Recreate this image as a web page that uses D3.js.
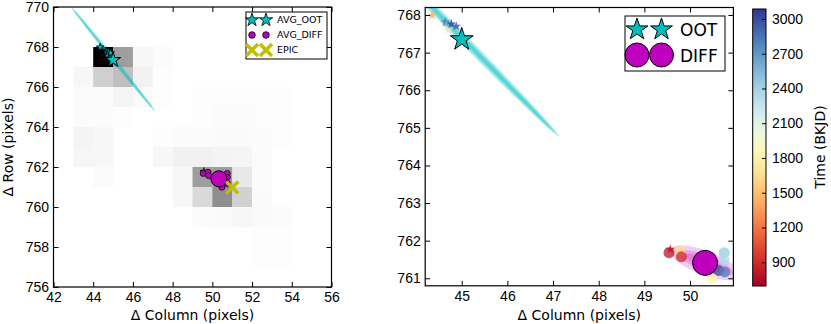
<!DOCTYPE html>
<html>
<head>
<meta charset="utf-8">
<script src="https://cdn.jsdelivr.net/npm/d3@7"></script>
<style>
  body { margin: 0; background: #fff; }
  svg { display: block; font-family: "DejaVu Sans", sans-serif; }
  .tick line { stroke: #000; }
  .tick text { font-size: 14px; fill: #000; }
</style>
</head>
<body>
<svg id="chart" width="831" height="324"></svg>
<script>
// ---------- data ----------
// pixel-response image (left panel): left edge of each column, bottom edge of each row
const heatCols = d3.range(42, 56);
const heatRows = d3.range(769, 755, -1);
// darkness 0..1, rows top -> bottom, columns 42 -> 55
const heatVals = [
  [0,0,0,0,0,0,0,0,0,0,0,0,0,0],
  [0,0,0,0,0,0,0,0,0,0,0,0,0,0],
  [0,0,1.0,0.38,0.03,0.015,0,0,0,0,0,0,0,0],
  [0,0.03,0.19,0.25,0.05,0.008,0,0,0,0,0,0,0,0],
  [0,0.015,0.015,0.04,0.02,0.008,0,0.008,0.01,0.01,0.01,0.008,0,0],
  [0,0.015,0.015,0.008,0,0,0,0.008,0.015,0.015,0.01,0.008,0,0],
  [0,0.045,0.03,0,0,0.008,0.015,0.015,0.02,0.02,0.015,0.008,0,0],
  [0,0.035,0.03,0,0,0.03,0.055,0.055,0.045,0.04,0.015,0,0,0],
  [0,0,0.015,0,0,0,0.03,0.38,0.38,0.09,0.015,0,0,0],
  [0,0,0,0,0,0,0.03,0.15,0.44,0.18,0.02,0,0,0],
  [0,0,0,0,0,0,0,0.015,0.02,0.03,0.02,0.015,0,0],
  [0,0,0,0,0,0,0,0,0,0,0.008,0.008,0,0],
  [0,0,0,0,0,0,0,0,0,0,0.008,0.008,0,0],
  [0,0,0,0,0,0,0,0,0,0,0,0,0,0]
];

// averaged centroids [column, row]
const avgOot = [45.0, 767.35];
const avgDiff = [50.33, 761.41];
const epicPos = [51.0, 760.98];

// per-quarter centroids [column, row, time BKJD]
const ootQuarters = [
  [44.35, 767.99, 1400],
  [44.70, 767.60, 1700],
  [44.64, 767.81, 2900],
  [44.68, 767.78, 2600],
  [44.77, 767.76, 3050],
  [44.88, 767.70, 3000],
  [49.57, 761.77, 800]
];
const diffQuarters = [
  [49.54, 761.68, 800],
  [49.78, 761.74, 1650],
  [49.81, 761.57, 900],
  [50.75, 761.68, 2450],
  [50.75, 761.48, 2350],
  [50.62, 761.21, 3000],
  [50.48, 760.99, 1800],
  [50.76, 761.17, 2800]
];

// error ellipses: centre, major and minor half-axis vectors (data units)
const ootEllipse = { c: [45.0, 767.4], a: [2.13, -2.63], b: [0.085, 0.069] };
const diffEllipse = { c: [50.33, 761.41], a: [-0.76, 0.35], b: [0.094, 0.3] };
const ootLayers = [[1, 1], [0.96, 0.65], [0.92, 0.35]];
const diffLayers = [[1, 1], [0.8, 0.65], [0.6, 0.4]];

const leftXTicks = d3.range(42, 57, 2);
const leftYTicks = d3.range(756, 771, 2);
const rightXTicks = d3.range(45, 51);
const rightYTicks = d3.range(761, 769);
const timeTicks = d3.range(900, 3001, 300);
const timeDomain = [695, 3086];

// ---------- layout ----------
const svg = d3.select('#chart');
const CYAN = '#00bfbf', MAG = '#bf00bf', YEL = '#bfbf00';
const intFmt = d3.format('d');

const L = { x0: 53.5, x1: 331.5, y0: 7, y1: 287 };
const R = { x0: 425.2, x1: 733.4, y0: 7.5, y1: 285.8 };

const xL = d3.scaleLinear([42, 56], [L.x0, L.x1]);
const yL = d3.scaleLinear([756, 770], [L.y1, L.y0]);
const xR = d3.scaleLinear([44.2, 50.95], [R.x0, R.x1]);
const yR = d3.scaleLinear([760.8, 768.2], [R.y1, R.y0]);
const tScale = d3.scaleLinear(timeDomain, [286, 9]);
const tColor = d3.scaleSequential(t => d3.interpolateRdYlBu(t)).domain(timeDomain);
const gray = d3.scaleLinear([0, 1], ['#ffffff', '#000000']);

const starSym = r => d3.symbol(d3.symbolStar, r * r / 0.8908130915292852)();
const crossPath = s => `M${-s},${-s}L${s},${s}M${-s},${s}L${s},${-s}`;

function ellipsePath(e, sx, sy, kLen, kWid) {
  const pts = d3.range(0, 121).map(i => {
    const t = i / 120 * 2 * Math.PI;
    return [
      sx(e.c[0] + Math.cos(t) * e.a[0] * kLen + Math.sin(t) * e.b[0] * kWid),
      sy(e.c[1] + Math.cos(t) * e.a[1] * kLen + Math.sin(t) * e.b[1] * kWid)
    ];
  });
  return d3.line()(pts) + 'Z';
}

const defs = svg.append('defs');
defs.append('clipPath').attr('id', 'clipL').append('rect')
  .attr('x', L.x0).attr('y', L.y0).attr('width', L.x1 - L.x0).attr('height', L.y1 - L.y0);
defs.append('clipPath').attr('id', 'clipR').append('rect')
  .attr('x', R.x0).attr('y', R.y0).attr('width', R.x1 - R.x0).attr('height', R.y1 - R.y0);

function drawAxes(box, sx, sy, xt, yt) {
  const g = svg.append('g');
  g.append('g').attr('transform', `translate(0,${box.y1})`)
    .call(d3.axisBottom(sx).tickValues(xt).tickFormat(intFmt).tickSizeInner(-5).tickSizeOuter(0).tickPadding(5));
  g.append('g').attr('transform', `translate(0,${box.y0})`)
    .call(d3.axisTop(sx).tickValues(xt).tickSizeInner(-5).tickSizeOuter(0).tickFormat(''));
  g.append('g').attr('transform', `translate(${box.x0},0)`)
    .call(d3.axisLeft(sy).tickValues(yt).tickFormat(intFmt).tickSizeInner(-5).tickSizeOuter(0).tickPadding(4.5));
  g.append('g').attr('transform', `translate(${box.x1},0)`)
    .call(d3.axisRight(sy).tickValues(yt).tickSizeInner(-5).tickSizeOuter(0).tickFormat(''));
  g.selectAll('.domain').remove();
  g.selectAll('.tick text').attr('font-family', null).attr('font-size', null);
  svg.append('rect').attr('x', box.x0).attr('y', box.y0)
    .attr('width', box.x1 - box.x0).attr('height', box.y1 - box.y0)
    .attr('fill', 'none').attr('stroke', '#000').attr('stroke-width', 1.2);
}

// ---------- left panel ----------
const gl = svg.append('g').attr('clip-path', 'url(#clipL)');
const cells = [];
heatVals.forEach((row, i) => row.forEach((v, j) => cells.push({ c: heatCols[j], r: heatRows[i], v })));
gl.append('g').selectAll('rect').data(cells.filter(d => d.v > 0)).join('rect')
  .attr('x', d => xL(d.c)).attr('y', d => yL(d.r + 1))
  .attr('width', d => xL(d.c + 1) - xL(d.c) + 0.3)
  .attr('height', d => yL(d.r) - yL(d.r + 1) + 0.3)
  .attr('fill', d => gray(d.v));

gl.append('g').selectAll('path').data(ootLayers).join('path')
  .attr('d', k => ellipsePath(ootEllipse, xL, yL, k[0], k[1]))
  .attr('fill', CYAN).attr('fill-opacity', 0.3);
gl.append('g').selectAll('path').data(diffLayers).join('path')
  .attr('d', k => ellipsePath(diffEllipse, xL, yL, k[0], k[1]))
  .attr('fill', MAG).attr('fill-opacity', 0.15);

gl.append('g').selectAll('path').data(ootQuarters).join('path')
  .attr('transform', d => `translate(${xL(d[0])},${yL(d[1])})`)
  .attr('d', starSym(4)).attr('fill', CYAN).attr('stroke', '#000').attr('stroke-width', 0.8);
gl.append('g').selectAll('circle').data(diffQuarters).join('circle')
  .attr('cx', d => xL(d[0])).attr('cy', d => yL(d[1])).attr('r', 3)
  .attr('fill', MAG).attr('stroke', '#000').attr('stroke-width', 0.8);

gl.append('path').attr('transform', `translate(${xL(avgOot[0])},${yL(avgOot[1])})`)
  .attr('d', starSym(8)).attr('fill', CYAN).attr('stroke', '#000').attr('stroke-width', 1);
gl.append('circle').attr('cx', xL(avgDiff[0])).attr('cy', yL(avgDiff[1])).attr('r', 8)
  .attr('fill', MAG).attr('stroke', '#000').attr('stroke-width', 1);
gl.append('path').attr('transform', `translate(${xL(epicPos[0])},${yL(epicPos[1])})`)
  .attr('d', crossPath(6)).attr('fill', 'none').attr('stroke', YEL).attr('stroke-width', 3.5);

drawAxes(L, xL, yL, leftXTicks, leftYTicks);

// left legend
const lg = svg.append('g');
lg.append('rect').attr('x', 246).attr('y', 12).attr('width', 81).attr('height', 47)
  .attr('fill', '#fff').attr('stroke', '#000').attr('stroke-width', 1);
[252, 266].forEach(x => {
  lg.append('path').attr('transform', `translate(${x},20)`).attr('d', starSym(7))
    .attr('fill', CYAN).attr('stroke', '#000').attr('stroke-width', 0.8);
  lg.append('circle').attr('cx', x).attr('cy', 35).attr('r', 3.3)
    .attr('fill', MAG).attr('stroke', '#000').attr('stroke-width', 0.8);
  lg.append('path').attr('transform', `translate(${x},50)`).attr('d', crossPath(6))
    .attr('fill', 'none').attr('stroke', YEL).attr('stroke-width', 3.5);
});
lg.selectAll('text').data(['AVG_OOT', 'AVG_DIFF', 'EPIC']).join('text')
  .attr('x', 277).attr('y', (d, i) => 20 + i * 15).attr('dy', '0.35em')
  .attr('font-size', 9.5).text(d => d);

svg.append('text').attr('x', (L.x0 + L.x1) / 2).attr('y', 320)
  .attr('text-anchor', 'middle').attr('font-size', 14).text('Δ Column (pixels)');
svg.append('text').attr('transform', `translate(13,${(L.y0 + L.y1) / 2}) rotate(-90)`)
  .attr('text-anchor', 'middle').attr('font-size', 14).text('Δ Row (pixels)');

// ---------- right panel ----------
const gr = svg.append('g').attr('clip-path', 'url(#clipR)');
gr.append('g').selectAll('path').data(ootLayers).join('path')
  .attr('d', k => ellipsePath(ootEllipse, xR, yR, k[0], k[1]))
  .attr('fill', CYAN).attr('fill-opacity', 0.3);
gr.append('g').selectAll('path').data(diffLayers).join('path')
  .attr('d', k => ellipsePath(diffEllipse, xR, yR, k[0], k[1]))
  .attr('fill', MAG).attr('fill-opacity', 0.2);

gr.append('g').selectAll('path').data(ootQuarters).join('path')
  .attr('transform', d => `translate(${xR(d[0])},${yR(d[1])})`)
  .attr('d', starSym(5)).attr('fill', d => tColor(d[2])).attr('fill-opacity', 0.8);
gr.append('g').selectAll('circle').data(diffQuarters).join('circle')
  .attr('cx', d => xR(d[0])).attr('cy', d => yR(d[1])).attr('r', 5.5)
  .attr('fill', d => tColor(d[2])).attr('fill-opacity', 0.75);

gr.append('path').attr('transform', `translate(${xR(avgOot[0])},${yR(avgOot[1])})`)
  .attr('d', starSym(12)).attr('fill', CYAN).attr('stroke', '#000').attr('stroke-width', 1);
gr.append('circle').attr('cx', xR(avgDiff[0])).attr('cy', yR(avgDiff[1])).attr('r', 12.5)
  .attr('fill', MAG).attr('stroke', '#000').attr('stroke-width', 1);

drawAxes(R, xR, yR, rightXTicks, rightYTicks);

// right legend
const rg = svg.append('g');
rg.append('rect').attr('x', 625).attr('y', 16).attr('width', 100).attr('height', 55)
  .attr('fill', '#fff').attr('stroke', '#000').attr('stroke-width', 1);
[637, 661.5].forEach(x => {
  rg.append('path').attr('transform', `translate(${x},29.5)`).attr('d', starSym(11.5))
    .attr('fill', CYAN).attr('stroke', '#000').attr('stroke-width', 1);
  rg.append('circle').attr('cx', x).attr('cy', 55).attr('r', 12)
    .attr('fill', MAG).attr('stroke', '#000').attr('stroke-width', 1);
});
rg.selectAll('text').data(['OOT', 'DIFF']).join('text')
  .attr('x', 680).attr('y', (d, i) => 30 + i * 25.5).attr('dy', '0.36em')
  .attr('font-size', 17).text(d => d);

svg.append('text').attr('x', (R.x0 + R.x1) / 2).attr('y', 320)
  .attr('text-anchor', 'middle').attr('font-size', 14).text('Δ Column (pixels)');

// ---------- colorbar ----------
const grad = defs.append('linearGradient').attr('id', 'cbar')
  .attr('x1', 0).attr('y1', 1).attr('x2', 0).attr('y2', 0);
d3.range(0, 1.0001, 0.05).forEach(t => {
  grad.append('stop').attr('offset', t).attr('stop-color', d3.interpolateRdYlBu(t));
});
svg.append('rect').attr('x', 752.7).attr('y', 9).attr('width', 13.3).attr('height', 277)
  .attr('fill', 'url(#cbar)').attr('stroke', '#000').attr('stroke-width', 1);
const cb = svg.append('g').attr('transform', 'translate(766,0)')
  .call(d3.axisRight(tScale).tickValues(timeTicks).tickFormat(intFmt).tickSizeInner(-4).tickSizeOuter(0).tickPadding(6));
cb.select('.domain').remove();
cb.selectAll('.tick text').attr('font-family', null).attr('font-size', null);
svg.append('text').attr('transform', `translate(820,147) rotate(-90)`)
  .attr('text-anchor', 'middle').attr('dy', '0.35em').attr('font-size', 14).text('Time (BKJD)');
</script>
</body>
</html>
